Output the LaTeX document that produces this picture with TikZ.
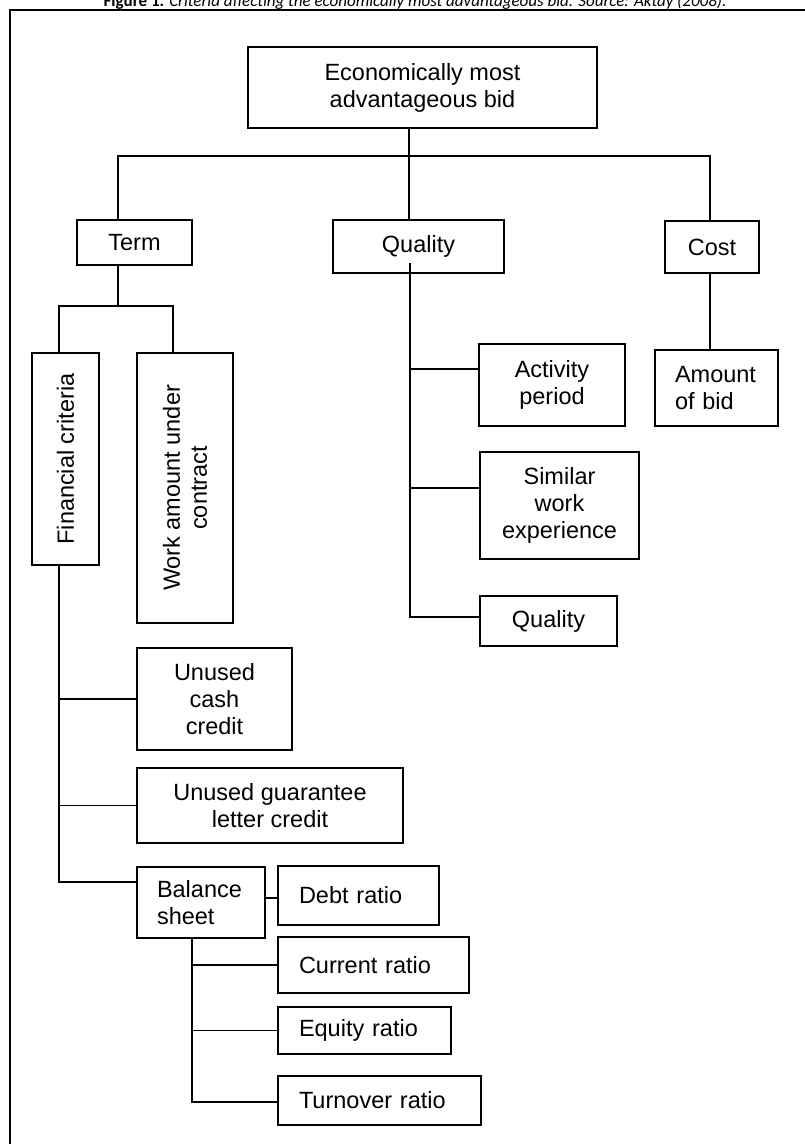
\documentclass[tikz,border=0pt]{standalone}
\usepackage{fontspec}
\setmainfont{Liberation Sans}
\newfontfamily\titlefont{Carlito}
\newcommand{\boxfont}{\fontsize{23.5}{27}\selectfont}
\newcommand{\capfont}{\titlefont\fontsize{17}{20}\selectfont}

\begin{document}
\begin{tikzpicture}[x=1pt, y=-1pt,
  box/.style={draw, line width=1.4pt, inner sep=0pt, align=center, font=\boxfont},
  leftbox/.style={box, align=left},
  link/.style={line width=1.4pt}]

\useasboundingbox (0,0) rectangle (805,1144);
\draw [line width=2.2pt] (10,1160) -- (10,10) -- (820,10);
\node [anchor=base, font=\capfont] (title) at (415,6) {\textbf{Figure 1.} \textit{Criteria affecting the economically most advantageous bid. Source: Aktay (2008).}};

\node [box, minimum width=349pt, minimum height=81pt] (top) at (422.5,87.5) {Economically most\\advantageous bid};
\node [box, minimum width=115pt, minimum height=45pt] (term) at (134.5,242.5) {Term};
\node [box, minimum width=171pt, minimum height=53pt] (qual) at (418.5,246.5) {Quality};
\node [box, minimum width=94pt, minimum height=52pt] (cost) at (712,247) {Cost};

\coordinate (jtop) at (409,156);
\coordinate (termx) at (118,0);
\coordinate (costx) at (710,0);
\draw [link] (top.south -| jtop) -- (jtop);
\draw [link] (term.north -| termx) |- (jtop) -| (cost.north -| costx);
\draw [link] (jtop) -- (qual.north -| jtop);

\node [box, rotate=90, minimum width=212pt, minimum height=67pt] (fin) at (65.5,459) {Financial criteria};
\node [box, rotate=90, minimum width=270pt, minimum height=96pt] (work) at (185,488) {Work amount under\\contract};

\coordinate (jterm) at (118,306);
\coordinate (finx) at (59,0);
\coordinate (workx) at (173,0);
\draw [link] (term.south -| termx) -- (jterm);
\draw [link] (fin.east -| finx) |- (jterm) -| (work.east -| workx);

\node [box, minimum width=146pt, minimum height=82pt] (act) at (552,385) {Activity\\period};
\node [box, minimum width=159pt, minimum height=107pt] (sim) at (559.5,505.5) {Similar\\work\\experience};
\node [box, minimum width=137pt, minimum height=50pt] (qsub) at (548.5,621) {Quality};

\coordinate (qtop) at (410,263);
\coordinate (qa) at (410,369);
\coordinate (qs) at (410,488);
\coordinate (qq) at (410,617);
\draw [link] (qtop) -- (qq) -- (qq -| qsub.west);
\draw [link] (qa) -- (qa -| act.west);
\draw [link] (qs) -- (qs -| sim.west);

\node [leftbox, text width=83pt, minimum width=123pt, minimum height=76pt] (amt) at (716.5,388) {Amount\\of bid};
\draw [link] (cost.south -| costx) -- (amt.north -| costx);

\node [box, minimum width=155pt, minimum height=102pt] (cash) at (214.5,699) {Unused\\cash\\credit};
\node [box, minimum width=266pt, minimum height=75pt] (guar) at (270,805.5) {Unused guarantee\\letter credit};
\node [leftbox, text width=88pt, minimum width=128pt, minimum height=71pt] (bal) at (201,902.5) {Balance\\sheet};

\coordinate (jbal) at (59,882);
\draw [link] (fin.west -| jbal) -- (jbal) -- (jbal -| bal.west);
\draw [link] (cash.west) -- (cash.west -| jbal);
\draw [link] (guar.west) -- (guar.west -| jbal);

\node [leftbox, text width=119pt, minimum width=161pt, minimum height=59pt] (debt) at (358.5,895.5) {Debt ratio};
\node [leftbox, text width=149pt, minimum width=191pt, minimum height=56pt] (curr) at (373.5,965) {Current ratio};
\node [leftbox, text width=131pt, minimum width=173pt, minimum height=47pt] (eq) at (364.5,1030.5) {Equity ratio};
\node [leftbox, text width=161pt, minimum width=203pt, minimum height=49pt] (turn) at (379.5,1100.5) {Turnover ratio};

\coordinate (jdebt) at (0,898);
\coordinate (jturn) at (192,1102);
\draw [link] (jdebt -| bal.east) -- (jdebt -| debt.west);
\draw [link] (bal.south -| jturn) -- (jturn) -- (jturn -| turn.west);
\draw [link] (curr.west) -- (curr.west -| jturn);
\draw [link] (eq.west) -- (eq.west -| jturn);

\end{tikzpicture}
\end{document}
